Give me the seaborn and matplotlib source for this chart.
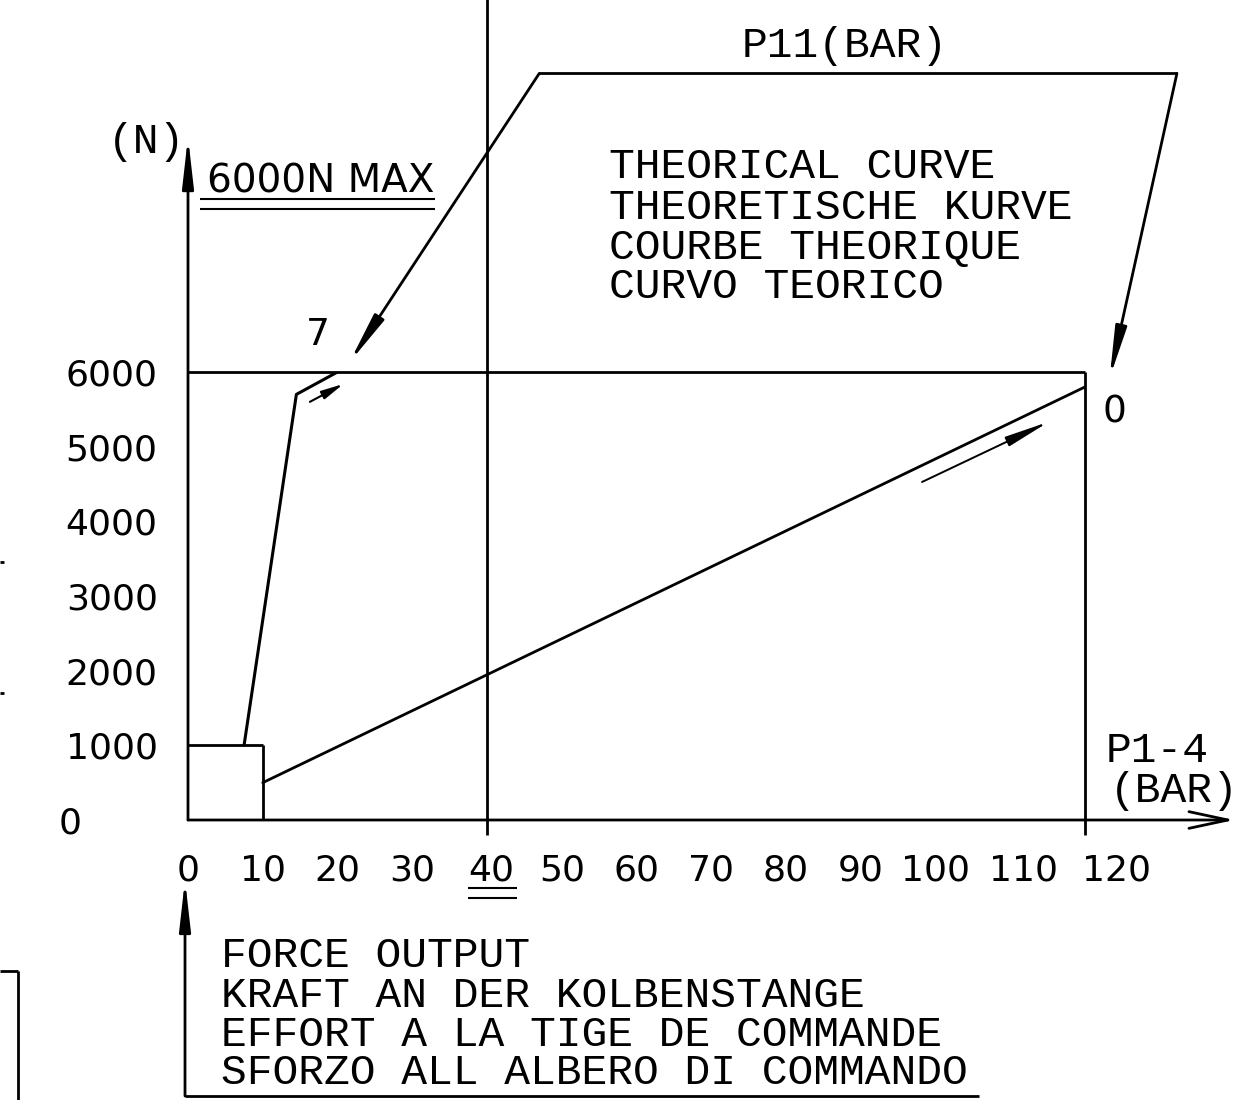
import matplotlib
matplotlib.use("Agg")
import matplotlib.pyplot as plt
import seaborn as sns
from matplotlib.transforms import ScaledTranslation

# ---------------- data ----------------
pressure_ticks = [0, 10, 20, 30, 40, 50, 60, 70, 80, 90, 100, 110, 120]
pressure_labels = [str(v) for v in pressure_ticks]
force_ticks = [0, 1000, 2000, 3000, 4000, 5000, 6000]
force_labels = [str(v) for v in force_ticks]

curve7_pressure = [7.5, 14.5, 20.0]
curve7_force = [1000, 5700, 6000]
curve0_pressure = [10, 120]
curve0_force = [500, 5800]

max_force = 6000
max_pressure = 120
marked_pressure = 40
box_pressure = 10
box_force = 1000

header_lines = ["THEORICAL CURVE", "THEORETISCHE KURVE",
                "COURBE THEORIQUE", "CURVO TEORICO"]
footer_lines = ["FORCE OUTPUT", "KRAFT AN DER KOLBENSTANGE",
                "EFFORT A LA TIGE DE COMMANDE", "SFORZO ALL ALBERO DI COMMANDO"]

# ---------------- style ----------------
sns.set_theme(style="white")
plt.rcParams['font.family'] = ['DejaVu Sans']
FS = 26
MONO = ['Liberation Mono', 'DejaVu Sans Mono']
MFS = 31
LW = 2.0
K = 'black'

fig = plt.figure(figsize=(12.42, 11.0), dpi=100)
ax = fig.add_axes([188 / 1242, 280 / 1100, 897 / 1242, 448 / 1100])
ax.set_xlim(0, max_pressure)
ax.set_ylim(0, max_force)
for s in ax.spines.values():
    s.set_visible(False)
ax.set_facecolor('white')
fig.patch.set_facecolor('white')

# ticks
ax.set_xticks(pressure_ticks)
ax.set_xticklabels(pressure_labels, fontsize=FS, color=K)
ax.set_yticks(force_ticks)
ax.set_yticklabels(force_labels, fontsize=FS, color=K)
ax.tick_params(axis='x', direction='out', length=10.8, width=1.8, pad=13, colors=K)
ax.tick_params(axis='y', direction='out', length=10.8, width=1.8, pad=11, colors=K)
ax.grid(False)

xt = ax.xaxis.get_major_ticks()
yt = ax.yaxis.get_major_ticks()
xt[0].tick1line.set_visible(False)
yt[0].tick1line.set_visible(False)
x_offsets = {4: 0.04, 11: 0.13, 12: 0.31}
for i, dx in x_offsets.items():
    lab = xt[i].label1
    lab.set_transform(lab.get_transform() + ScaledTranslation(dx, 0, fig.dpi_scale_trans))
lab = yt[0].label1
lab.set_transform(lab.get_transform() + ScaledTranslation(-0.76, 0, fig.dpi_scale_trans))


def arrow(start, tip, style="-|>,head_length=1.5,head_width=0.17", lw=LW, ms=20):
    ax.annotate("", xy=tip, xytext=start, annotation_clip=False,
                arrowprops=dict(arrowstyle=style, color=K, lw=lw,
                                shrinkA=0, shrinkB=0, mutation_scale=ms))


def line(xs, ys, lw=LW):
    ax.plot(xs, ys, color=K, lw=lw, clip_on=False, solid_capstyle='butt')


def mtext(x, y, s, ha='left', size=MFS, family=MONO):
    ax.text(x, y, s, fontsize=size, family=family, ha=ha, va='center', color=K)


# axes with arrows
arrow((0, 0), (140, 0), style="->,head_length=1.4,head_width=0.3")
arrow((0, 0), (0, 9150))

# frame lines
line([0, max_pressure], [max_force, max_force])
line([max_pressure, max_pressure], [-201, max_force])
line([0, box_pressure], [box_force, box_force])
line([box_pressure, box_pressure], [0, box_force])
line([marked_pressure, marked_pressure], [-201, 11200])

# theoretical curves
sns.lineplot(x=curve7_pressure, y=curve7_force, sort=False, color=K, lw=LW * 1.1, ax=ax)
sns.lineplot(x=curve0_pressure, y=curve0_force, sort=False, color=K, lw=LW, ax=ax)

# direction arrows
arrow((16.3, 5600), (20.8, 5840), style="-|>,head_length=1.1,head_width=0.22", lw=1.5, ms=12)
arrow((98.2, 4527), (115.2, 5335), lw=1.4, ms=18)

# P11 leader
line([47.0, 132.3], [10000, 10000])
arrow((47.0, 10000), (21.6, 6130))
arrow((132.3, 10000), (123.3, 5920))
mtext(87.9, 10366, "P11(BAR)", ha='center')

# labels
mtext(-5.5, 9080, "(N)", ha='center')
mtext(2.5, 8555, "6000N MAX", size=28, family=['DejaVu Sans'])
line([1.6, 33.0], [8317, 8317], lw=1.5)
line([1.6, 33.0], [8183, 8183], lw=1.5)

hy = [8746, 8203, 7661, 7138]
for t, yy in zip(header_lines, hy):
    mtext(56.3, yy, t)

mtext(17.4, 6496, "7", ha='center', size=27, family=['DejaVu Sans'])
mtext(124.0, 5451, "0", ha='center', size=27, family=['DejaVu Sans'])
mtext(122.8, 924, "P1-4")
mtext(123.3, 388, "(BAR)")

# underline of 40
line([37.5, 44.0], [-911, -911], lw=1.5)
line([37.5, 44.0], [-1045, -1045], lw=1.5)

# footer
fy = [-1828, -2357, -2873, -3395]
for t, yy in zip(footer_lines, fy):
    mtext(4.4, yy, t)
line([-0.4, 105.8], [-3696, -3696])
arrow((-0.4, -3696), (-0.4, -800))

# left-edge fragments
line([-25.2, -22.74], [-2022, -2022])
line([-22.74, -22.74], [-2022, -3900])
line([-25.2, -24.6], [3455, 3455])
line([-25.2, -24.6], [1701, 1701])

fig.savefig("out.png", dpi=100, facecolor='white')
